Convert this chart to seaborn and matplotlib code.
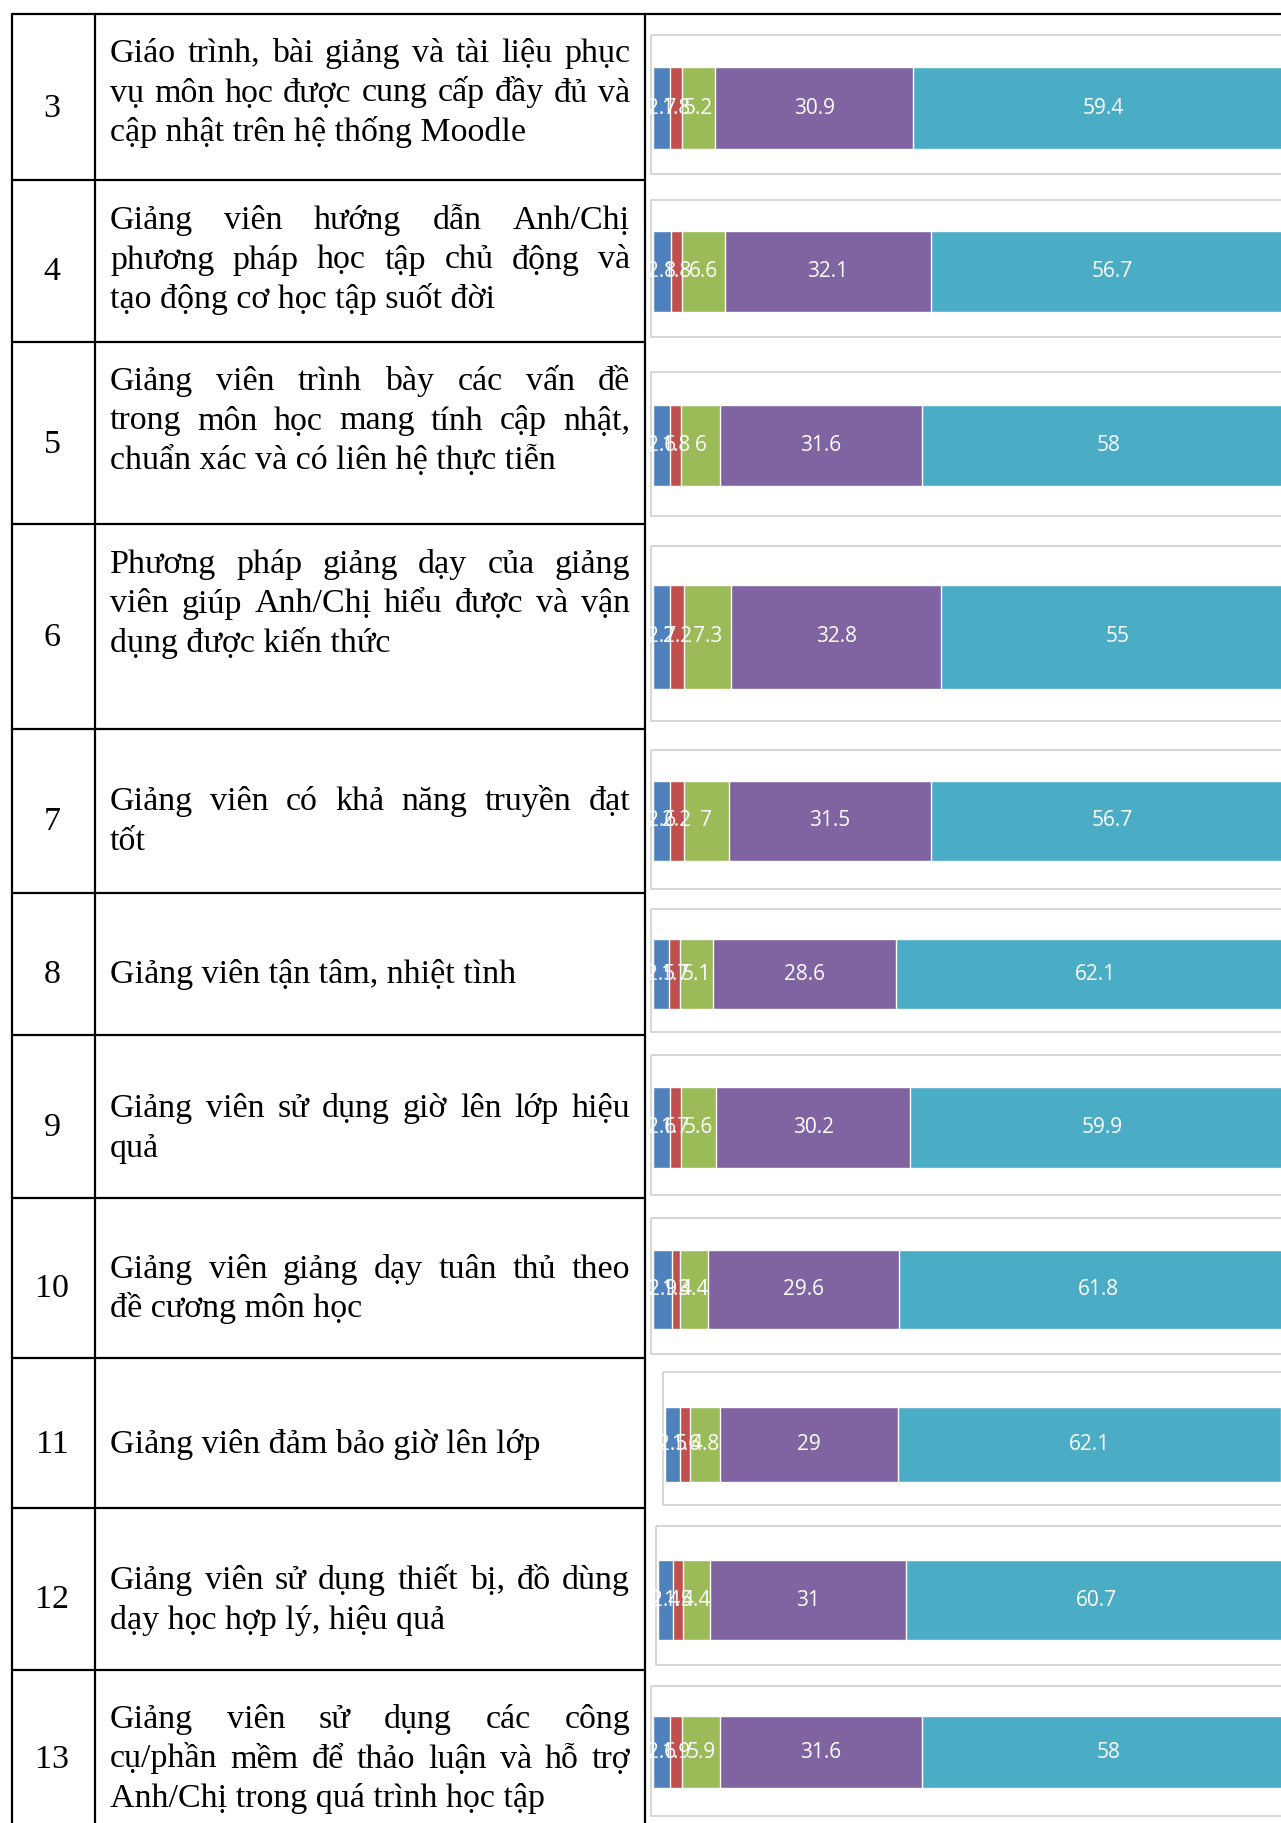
import seaborn as sns
import matplotlib.pyplot as plt
import pandas as pd
import numpy as np
from matplotlib.patches import Rectangle

# ---- data ----
row_ids = ["3", "4", "5", "6", "7", "8", "9", "10", "11", "12", "13"]
statements = [
    ["Giáo trình, bài giảng và tài liệu phục", "vụ môn học được cung cấp đầy đủ và", "cập nhật trên hệ thống Moodle"],
    ["Giảng viên hướng dẫn Anh/Chị", "phương pháp học tập chủ động và", "tạo động cơ học tập suốt đời"],
    ["Giảng viên trình bày các vấn đề", "trong môn học mang tính cập nhật,", "chuẩn xác và có liên hệ thực tiễn"],
    ["Phương pháp giảng dạy của giảng", "viên giúp Anh/Chị hiểu được và vận", "dụng được kiến thức"],
    ["Giảng viên có khả năng truyền đạt", "tốt"],
    ["Giảng viên tận tâm, nhiệt tình"],
    ["Giảng viên sử dụng giờ lên lớp hiệu", "quả"],
    ["Giảng viên giảng dạy tuân thủ theo", "đề cương môn học"],
    ["Giảng viên đảm bảo giờ lên lớp"],
    ["Giảng viên sử dụng thiết bị, đồ dùng", "dạy học hợp lý, hiệu quả"],
    ["Giảng viên sử dụng các công", "cụ/phần mềm để thảo luận và hỗ trợ", "Anh/Chị trong quá trình học tập"],
]
level1 = [2.7, 2.8, 2.6, 2.7, 2.6, 2.5, 2.6, 2.9, 2.5, 2.4, 2.6]
level2 = [1.8, 1.8, 1.8, 2.2, 2.2, 1.7, 1.7, 1.3, 1.6, 1.5, 1.9]
level3 = [5.2, 6.6, 6, 7.3, 7, 5.1, 5.6, 4.4, 4.8, 4.4, 5.9]
level4 = [30.9, 32.1, 31.6, 32.8, 31.5, 28.6, 30.2, 29.6, 29, 31, 31.6]
level5 = [59.4, 56.7, 58, 55, 56.7, 62.1, 59.9, 61.8, 62.1, 60.7, 58]
level_colors = ["#4F81BD", "#C0504D", "#9BBB59", "#8064A2", "#4BACC6"]

# ---- layout (pixels) ----
W, H = 1281, 1823
row_lines = [14, 180, 342, 524, 729, 893, 1035, 1198, 1358, 1508, 1670]
col_lines = [12, 95, 645]
num_y = [107, 270, 443, 636, 820, 973, 1126, 1287, 1443, 1598, 1758]
text_y0 = [52, 219, 380, 563, 800, 973, 1107, 1268, 1443, 1579, 1718]
line_gap = 39.5
text_x0, text_x1 = 110, 630
frame_box = [(35, 174), (200, 337), (372, 516), (546, 721), (750, 889), (909, 1032),
             (1055, 1195), (1218, 1354), (1372, 1505), (1526, 1665), (1686, 1816)]
bar_box = [(67, 149), (231, 312), (405, 486), (585, 689), (781, 861), (939, 1009),
           (1087, 1168), (1250, 1329), (1407, 1482), (1560, 1640), (1716, 1788)]
bar_left = [653, 653, 653, 653, 653, 653, 653, 653, 665, 658, 653]
bar_scale = [6.41, 6.41, 6.41, 6.41, 6.41, 6.41, 6.41, 6.45, 6.16, 6.30, 6.41]

sns.set_style("white")
plt.rcParams['font.family'] = ['Liberation Serif', 'DejaVu Serif']

fig = plt.figure(figsize=(W / 100, H / 100), dpi=100)
bg = fig.add_axes([0, 0, 1, 1])
bg.set_xlim(0, W)
bg.set_ylim(H, 0)
bg.axis("off")
renderer = fig.canvas.get_renderer()

serif = dict(fontsize=24.5, color="black", family=['Liberation Serif', 'DejaVu Serif'])

# table grid
bg.plot([col_lines[0], W], [row_lines[0], row_lines[0]], color="black", lw=1.6)
for y in row_lines[1:]:
    bg.plot([col_lines[0], col_lines[2]], [y, y], color="black", lw=1.6)
for x in col_lines:
    bg.plot([x, x], [row_lines[0], H], color="black", lw=1.6)


def word_width(w):
    t = bg.text(0, 0, w, **serif)
    wd = t.get_window_extent(renderer).width
    t.remove()
    return wd


def draw_line(line, y, last):
    words = line.split(" ")
    if last or len(words) == 1:
        bg.text(text_x0, y, line, va="baseline", ha="left", **serif)
        return
    widths = [word_width(w) for w in words]
    gap = (text_x1 - text_x0 - sum(widths)) / (len(words) - 1)
    x = text_x0
    for w, wd in zip(words, widths):
        bg.text(x, y, w, va="baseline", ha="left", **serif)
        x += wd + gap


for i, rid in enumerate(row_ids):
    bg.text(52, num_y[i] + 10, rid, ha="center", va="baseline", **serif)
    lines = statements[i]
    for j, line in enumerate(lines):
        draw_line(line, text_y0[i] + j * line_gap + 10, j == len(lines) - 1)

# stacked bars, one small chart per row
levels = np.array([level1, level2, level3, level4, level5]).T
for i in range(len(row_ids)):
    ft, fb = frame_box[i]
    bg.add_patch(Rectangle((bar_left[i] - 2, ft), W, fb - ft, fill=False,
                           edgecolor="#d0d0d0", lw=1.2))
    bt, bb = bar_box[i]
    ax = fig.add_axes([bar_left[i] / W, 1 - bb / H, 100 * bar_scale[i] / W, (bb - bt) / H])
    vals = levels[i]
    cum = np.cumsum(vals)
    df = pd.DataFrame({"total": cum, "row": ["r"] * 5, "level": range(5)})
    for k in range(4, -1, -1):
        sns.barplot(data=df[df["level"] == k], x="total", y="row", orient="h",
                    color=level_colors[k], width=1, saturation=1, ax=ax)
    ax.set_xlim(0, 100)
    ax.set_ylim(0.5, -0.5)
    ax.axis("off")
    for k in range(5):
        ax.text(cum[k] - vals[k] / 2, 0, f"{vals[k]:g}", ha="center", va="center",
                color="white", fontsize=15, family=["Open Sans", "DejaVu Sans"])

fig.savefig("out.png", dpi=100)
plt.close()
